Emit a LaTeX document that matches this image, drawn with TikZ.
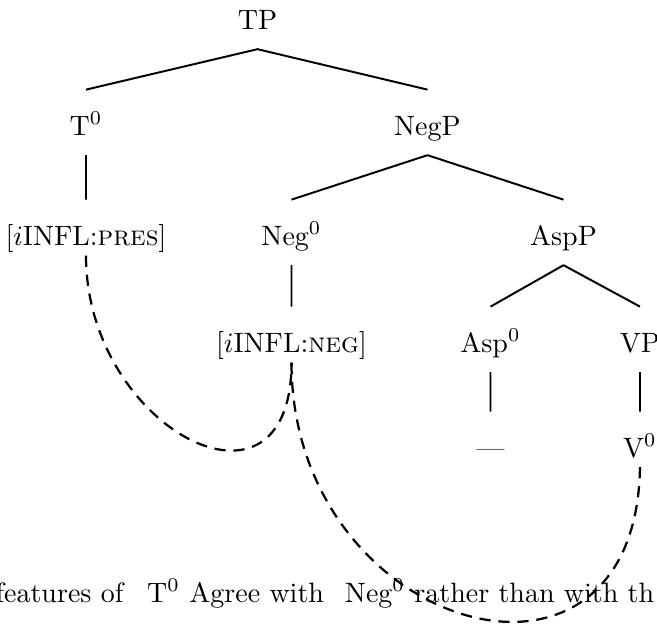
\documentclass[tikz,border=0pt]{standalone}
\usepackage{amsmath,amssymb}
\usepackage{tikz}
\usetikzlibrary{arrows.meta}
\tikzset{
  every picture/.style={line join=round, >=Stealth},
  lab/.style={anchor=base, inner xsep=1pt, inner ysep=5pt, text height=11pt, text depth=2pt},
  branch/.style={line width=0.7pt},
  agree/.style={thick, dash pattern=on 4pt off 2.8pt},
}

\begin{document}
\begin{tikzpicture}[x=0.357pt,y=0.357pt]
\useasboundingbox(0,0)rectangle(657,-628);
\clip(0,0)rectangle(657,-628);
% tree
\path(257.5,-29)node[lab](tp){TP}
(86,-135)node[lab](t){T$^0$}
(427.5,-135)node[lab](negp){NegP}
(86,-245)node[lab](pres){[$i$INFL:\textsc{pres}]}
(291.5,-245)node[lab](neg){Neg$^0$}
(563.5,-245)node[lab](aspp){AspP}
(291.5,-352)node[lab](negf){[$i$INFL:\textsc{neg}]}
(490.5,-352)node[lab](asp){Asp$^0$}
(640,-352)node[lab](vp){VP}
(490.5,-457)node[lab](gap){---}
(640,-457)node[lab](v){V$^0$};
\draw[branch](tp.south)--(t.north)
(tp.south)--(negp.north)
(t.south)--(pres.north)
(negp.south)--(neg.north)
(negp.south)--(aspp.north)
(neg.south)--(negf.north)
(aspp.south)--(asp.north)
(aspp.south)--(vp.north)
(asp.south)--(gap.north)
(vp.south)--(v.north);
% running text
\path(-5,-602)node[anchor=base west,inner sep=0pt](txt){features of\hspace{8.5pt}T$^0$ Agree with\hspace{7.5pt}Neg$^0$ rather than with th};
% agreement
\draw[agree]([yshift=3.4pt]pres.south)..controls +(0,-173) and +(0,-173)..([yshift=3.4pt]negf.south);
\draw[agree]([yshift=3.4pt]negf.south)..controls +(0,-270) and +(0,-270)..([yshift=5.2pt]v.south);
\end{tikzpicture}
\end{document}
